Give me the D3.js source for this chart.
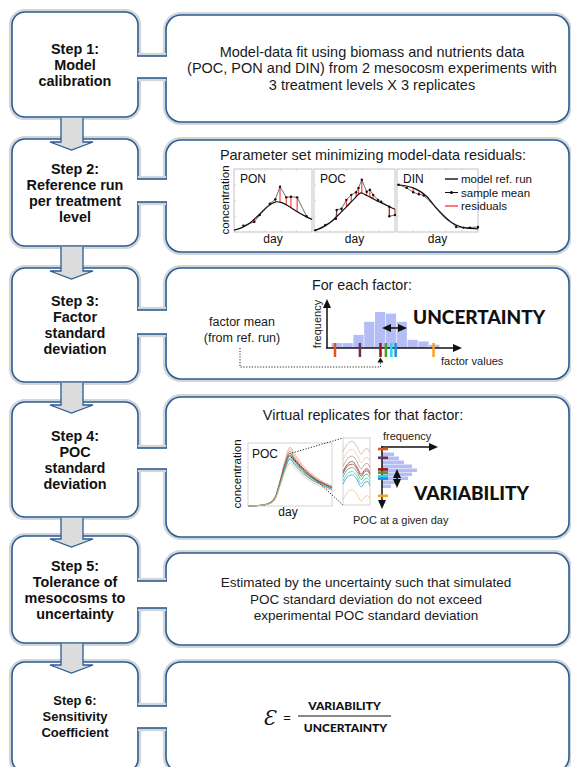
<!DOCTYPE html>
<html><head><meta charset="utf-8">
<script src="https://cdn.jsdelivr.net/npm/d3@7"></script>
<style>body{margin:0;background:#fff}</style>
</head><body>
<script type="text/javascript">
var w = 571, h = 767;
var blue = "#2c5b94", halo = "#d3d6d9";
var sans = "'Liberation Sans', Arial, sans-serif";
var lato = "Lato, 'Open Sans', sans-serif";

// ---- DATA ----
var stepTitles = [
  ["Step 1:", "Model", "calibration"],
  ["Step 2:", "Reference run", "per treatment", "level"],
  ["Step 3:", "Factor", "standard", "deviation"],
  ["Step 4:", "POC", "standard", "deviation"],
  ["Step 5:", "Tolerance of", "mesocosms to", "uncertainty"],
  ["Step 6:", "Sensitivity", "Coefficient"]
];
var step1Text = ["Model-data fit using biomass and nutrients data",
  "(POC, PON and DIN) from 2 mesocosm experiments with",
  "3 treatment levels X 3 replicates"];
var step5Text = ["Estimated by the uncertainty such that simulated",
  "POC standard deviation do not exceed",
  "experimental POC standard deviation"];

// step 2 panels (x: day fraction, y: concentration fraction)
var ponModelX = [0, 0.1, 0.2, 0.3, 0.4, 0.5, 0.55, 0.6, 0.7, 0.8, 0.9, 1];
var ponModelY = [0.03, 0.07, 0.14, 0.25, 0.37, 0.46, 0.48, 0.47, 0.41, 0.33, 0.26, 0.2];
var ponSampleX = [0.12, 0.26, 0.33, 0.46, 0.53, 0.59, 0.67, 0.73, 0.81, 0.93];
var ponSampleY = [0.1, 0.16, 0.27, 0.45, 0.52, 0.72, 0.55, 0.56, 0.55, 0.25];
var pocModelX = [0, 0.1, 0.2, 0.3, 0.4, 0.5, 0.58, 0.65, 0.7, 0.8, 0.9, 1];
var pocModelY = [0.02, 0.07, 0.15, 0.27, 0.4, 0.53, 0.62, 0.58, 0.55, 0.48, 0.42, 0.36];
var pocSampleX = [0.02, 0.14, 0.27, 0.28, 0.34, 0.4, 0.46, 0.52, 0.55, 0.59, 0.65, 0.69, 0.73, 0.79, 0.83, 0.93, 0.93, 1];
var pocSampleY = [0.03, 0.11, 0.21, 0.35, 0.37, 0.51, 0.59, 0.63, 0.7, 0.83, 0.64, 0.67, 0.59, 0.51, 0.48, 0.4, 0.25, 0.27];
var dinModelX = [0, 0.2, 0.37, 0.49, 0.61, 0.73, 0.86, 1];
var dinModelY = [0.75, 0.7, 0.56, 0.37, 0.21, 0.11, 0.06, 0.05];
var dinSampleX = [0.02, 0.12, 0.2, 0.27, 0.33, 0.73, 0.82, 0.9, 1];
var dinSampleY = [0.75, 0.7, 0.63, 0.6, 0.58, 0.08, 0.07, 0.07, 0.08];
var legendLabels = ["model ref. run", "sample mean", "residuals"];

// step 3 histogram of factor values
var factorBins = [0, 1, 2, 3, 4, 5, 6, 7, 8, 9];
var factorFreq = [3, 3, 8, 16, 22, 21, 16, 5, 4, 2];
var factorMarks = [0.3, 2.6, 4.5, 5.0, 5.5, 5.9, 9.4];
var markColors = ["#e2561c", "#6a2f5c", "#a31515", "#4f9a24", "#2ad4f2", "#1f8fd6", "#ffa01f"];
var factorMean = 4.5;

// step 4 virtual replicate curves
var repX = [0, 0.15, 0.25, 0.32, 0.38, 0.44, 0.5, 0.55, 0.65, 0.75, 0.85, 1];
var repY = [
  [0, 0.01, 0.05, 0.14, 0.40, 0.72, 0.93, 0.84, 0.65, 0.52, 0.42, 0.32],
  [0, 0.01, 0.05, 0.13, 0.39, 0.70, 0.90, 0.81, 0.63, 0.50, 0.41, 0.31],
  [0, 0.01, 0.04, 0.13, 0.38, 0.68, 0.87, 0.78, 0.61, 0.49, 0.40, 0.30],
  [0, 0.01, 0.04, 0.12, 0.37, 0.66, 0.84, 0.75, 0.59, 0.47, 0.39, 0.29],
  [0, 0.01, 0.04, 0.12, 0.36, 0.64, 0.81, 0.73, 0.57, 0.46, 0.38, 0.29],
  [0, 0.01, 0.04, 0.12, 0.35, 0.62, 0.79, 0.71, 0.56, 0.45, 0.37, 0.28],
  [0, 0.01, 0.04, 0.11, 0.34, 0.60, 0.76, 0.68, 0.54, 0.43, 0.36, 0.27],
  [0, 0.01, 0.04, 0.11, 0.33, 0.58, 0.74, 0.66, 0.52, 0.42, 0.35, 0.26],
  [0, 0.01, 0.03, 0.10, 0.31, 0.54, 0.68, 0.61, 0.48, 0.39, 0.32, 0.25]
];
var repColors = ["#eaa48e", "#f2c0ae", "#c98878", "#7b3b6b", "#a52a2a", "#5aa83a", "#38c6ea", "#3a96d4", "#f5c46a"];
var insetX = [0, 0.19, 0.35, 0.5, 0.68, 0.81, 0.9, 1];
var insetY = [
  [0.80, 0.92, 0.95, 0.88, 0.76, 0.83, 0.84, 0.78],
  [0.68, 0.80, 0.83, 0.76, 0.63, 0.70, 0.71, 0.65],
  [0.58, 0.70, 0.73, 0.66, 0.54, 0.61, 0.62, 0.56],
  [0.50, 0.62, 0.65, 0.58, 0.46, 0.53, 0.54, 0.48],
  [0.47, 0.59, 0.61, 0.55, 0.43, 0.50, 0.51, 0.45],
  [0.42, 0.54, 0.56, 0.50, 0.38, 0.45, 0.46, 0.40],
  [0.36, 0.48, 0.50, 0.44, 0.32, 0.39, 0.40, 0.34],
  [0.31, 0.43, 0.45, 0.39, 0.27, 0.34, 0.35, 0.29],
  [0.08, 0.20, 0.23, 0.17, 0.06, 0.12, 0.14, 0.09]
];
// POC at a given day histogram (bins top -> bottom)
var pocBins = [0, 1, 2, 3, 4, 5, 6, 7, 8];
var pocFreq = [12, 17, 22, 30, 35, 30, 26, 17, 9];
var pocMarks = [-0.9, 1.3, 4.2, 5.0, 5.9, 6.5, 10.8];

// ---- LAYOUT ----
var leftBoxes = [[12, 117], [139, 246], [268, 382], [402, 517], [536, 643], [662, 772]];
var rightBoxes = [[15, 122], [140, 252], [268, 379], [397, 537], [553, 645], [662, 772]];
var connectors = [[56, 78], [179, 202], [310, 334], [448, 469], [581, 608], [706, 728]];

const svg = d3.select("body").append("svg").attr("width", w).attr("height", h);

function box(x, y, bw, bh, r) {
  svg.append("rect").attr("x", x - 1.6).attr("y", y - 1.6).attr("width", bw + 3.2).attr("height", bh + 3.2)
    .attr("rx", r + 1.6).attr("fill", "none").attr("stroke", halo).attr("stroke-width", 3);
  svg.append("rect").attr("x", x).attr("y", y).attr("width", bw).attr("height", bh)
    .attr("rx", r).attr("fill", "#fff").attr("stroke", blue).attr("stroke-width", 1.6);
}

leftBoxes.forEach(function (b) { box(12, b[0], 126, b[1] - b[0], 13); });
rightBoxes.forEach(function (b) { box(166, b[0], 403, b[1] - b[0], 15); });

// connectors
connectors.forEach(function (c) {
  svg.append("rect").attr("x", 136).attr("y", c[0]).attr("width", 32).attr("height", c[1] - c[0]).attr("fill", "#fff");
  svg.append("line").attr("x1", 138).attr("x2", 166).attr("y1", c[0] - 1.6).attr("y2", c[0] - 1.6).attr("stroke", halo).attr("stroke-width", 3);
  svg.append("line").attr("x1", 138).attr("x2", 166).attr("y1", c[1] + 1.6).attr("y2", c[1] + 1.6).attr("stroke", halo).attr("stroke-width", 3);
  svg.append("line").attr("x1", 137).attr("x2", 167).attr("y1", c[0]).attr("y2", c[0]).attr("stroke", blue).attr("stroke-width", 1.6);
  svg.append("line").attr("x1", 137).attr("x2", 167).attr("y1", c[1]).attr("y2", c[1]).attr("stroke", blue).attr("stroke-width", 1.6);
});

// arrows between step boxes
for (var i = 0; i < leftBoxes.length - 1; i++) {
  var y0 = leftBoxes[i][1] + 0.8, yb = leftBoxes[i + 1][0] + 3, tip = leftBoxes[i + 1][0] + 11;
  var pts = [[61, y0], [61, yb], [50, yb], [71.5, tip], [93, yb], [83, yb], [83, y0]];
  svg.append("path").attr("d", d3.line()(pts) + "Z").attr("fill", "#dcdcdc");
  svg.append("path").attr("d", d3.line()(pts)).attr("fill", "none").attr("stroke", blue).attr("stroke-width", 1.3);
}

// step titles
stepTitles.forEach(function (lines, k) {
  var cy = (leftBoxes[k][0] + leftBoxes[k][1]) / 2;
  if (k == 5) cy = 716;
  var t = svg.append("text").attr("font-family", sans).attr("font-weight", "bold").attr("font-size", k == 5 ? 13 : 14.4)
    .attr("text-anchor", "middle").attr("fill", "#111");
  lines.forEach(function (s, j) {
    t.append("tspan").attr("x", 75).attr("y", cy + 5 + (j - (lines.length - 1) / 2) * 16).text(s);
  });
});

function centerText(lines, cx, y0, dy, size) {
  var t = svg.append("text").attr("font-family", sans).attr("font-size", size).attr("text-anchor", "middle").attr("fill", "#1a1a1a");
  lines.forEach(function (s, j) { t.append("tspan").attr("x", cx).attr("y", y0 + j * dy).text(s); });
}
centerText(step1Text, 372, 56.5, 16.5, 14.5);
centerText(step5Text, 366, 587, 16.5, 13.5);

// ---- STEP 2 ----
centerText(["Parameter set minimizing model-data residuals:"], 373, 160, 0, 14.5);
function interp(xs, ys, x) {
  for (var k = 1; k < xs.length; k++) {
    if (x <= xs[k]) { var f = (x - xs[k - 1]) / (xs[k] - xs[k - 1]); return ys[k - 1] + f * (ys[k] - ys[k - 1]); }
  }
  return ys[ys.length - 1];
}
function panel(x0, x1, label, mx, my, sx, sy) {
  var X = d3.scaleLinear().domain([0, 1]).range([x0, x1]);
  var Y = d3.scaleLinear().domain([0, 1]).range([232, 169]);
  svg.append("rect").attr("x", x0).attr("y", 169).attr("width", x1 - x0).attr("height", 63).attr("fill", "#fff").attr("stroke", "#b5b5b5").attr("stroke-width", 0.8);
  [0.2, 0.4, 0.6, 0.8].forEach(function (t) {
    svg.append("line").attr("x1", X(t)).attr("x2", X(t)).attr("y1", 169).attr("y2", 171).attr("stroke", "#c8c8c8").attr("stroke-width", 0.6);
    svg.append("line").attr("x1", X(t)).attr("x2", X(t)).attr("y1", 230).attr("y2", 232).attr("stroke", "#c8c8c8").attr("stroke-width", 0.6);
  });
  [0.25, 0.5, 0.75].forEach(function (t) {
    svg.append("line").attr("x1", x0).attr("x2", x0 + 2).attr("y1", Y(t)).attr("y2", Y(t)).attr("stroke", "#c8c8c8").attr("stroke-width", 0.6);
  });
  sx.forEach(function (x, k) {
    svg.append("line").attr("x1", X(x)).attr("x2", X(x)).attr("y1", Y(sy[k])).attr("y2", Y(interp(mx, my, x)))
      .attr("stroke", "#ff4040").attr("stroke-width", 1.2);
  });
  var line = d3.line().x(function (d) { return X(d[0]); }).y(function (d) { return Y(d[1]); });
  svg.append("path").attr("d", line(d3.zip(sx, sy))).attr("fill", "none").attr("stroke", "#333").attr("stroke-width", 0.7);
  sx.forEach(function (x, k) { svg.append("circle").attr("cx", X(x)).attr("cy", Y(sy[k])).attr("r", 1.2).attr("fill", "#111"); });
  svg.append("path").attr("d", line.curve(d3.curveMonotoneX)(d3.zip(mx, my))).attr("fill", "none").attr("stroke", "#111").attr("stroke-width", 1.2);
  svg.append("text").attr("x", x0 + 6).attr("y", 183).attr("font-family", sans).attr("font-size", 12).attr("fill", "#111").text(label);
  svg.append("text").attr("x", (x0 + x1) / 2).attr("y", 243).attr("text-anchor", "middle").attr("font-family", sans).attr("font-size", 12).attr("fill", "#111").text("day");
}
panel(234, 312, "PON", ponModelX, ponModelY, ponSampleX, ponSampleY);
panel(314, 395, "POC", pocModelX, pocModelY, pocSampleX, pocSampleY);
panel(397, 478, "DIN", dinModelX, dinModelY, dinSampleX, dinSampleY);
svg.append("text").attr("transform", "translate(229,200) rotate(-90)").attr("text-anchor", "middle")
  .attr("font-family", sans).attr("font-size", 11.5).attr("fill", "#111").text("concentration");
legendLabels.forEach(function (s, k) {
  var ly = 179 + k * 13.5;
  svg.append("line").attr("x1", 445).attr("x2", 458).attr("y1", ly).attr("y2", ly)
    .attr("stroke", k == 2 ? "#ff4040" : "#111").attr("stroke-width", k == 1 ? 1 : 1.4);
  if (k == 1) svg.append("circle").attr("cx", 451.5).attr("cy", ly).attr("r", 1.6).attr("fill", "#111");
  svg.append("text").attr("x", 461).attr("y", ly + 4).attr("font-family", sans).attr("font-size", 11.5).attr("fill", "#111").text(s);
});

// ---- STEP 3 ----
centerText(["For each factor:"], 362, 290, 0, 14.3);
var fx = d3.scaleLinear().domain([0, 10]).range([331.7, 440]);
var fy = d3.scaleLinear().domain([0, 22]).range([348, 312]);
factorBins.forEach(function (b, k) {
  svg.append("rect").attr("x", fx(b)).attr("y", fy(factorFreq[k])).attr("width", fx(b + 1) - fx(b) - 0.6)
    .attr("height", 348 - fy(factorFreq[k])).attr("fill", "#b4bdf6");
});
function arrowHead(x, y, dir) {
  var p = dir == "up" ? [[x - 4, y + 9], [x + 4, y + 9], [x, y]] :
    dir == "down" ? [[x - 4, y - 9], [x + 4, y - 9], [x, y]] :
    dir == "right" ? [[x - 9, y - 4], [x - 9, y + 4], [x, y]] : [[x + 9, y - 4], [x + 9, y + 4], [x, y]];
  svg.append("path").attr("d", d3.line()(p) + "Z").attr("fill", "#111");
}
svg.append("line").attr("x1", 327).attr("x2", 327).attr("y1", 348).attr("y2", 305).attr("stroke", "#111").attr("stroke-width", 1.5);
arrowHead(327, 299, "up");
svg.append("line").attr("x1", 326).attr("x2", 455).attr("y1", 348).attr("y2", 348).attr("stroke", "#111").attr("stroke-width", 1.5);
arrowHead(462, 348, "right");
factorMarks.forEach(function (m, k) {
  svg.append("rect").attr("x", fx(m) - 1.2).attr("y", 343).attr("width", 2.5).attr("height", 14).attr("fill", markColors[k]);
});
svg.append("line").attr("x1", 388).attr("x2", 401).attr("y1", 328).attr("y2", 328).attr("stroke", "#111").attr("stroke-width", 1.5);
arrowHead(382, 328, "left");
arrowHead(407, 328, "right");
svg.append("text").attr("x", 413).attr("y", 324).attr("font-family", lato).attr("font-weight", 900).attr("font-size", 19).attr("fill", "#111").text("UNCERTAINTY");
svg.append("text").attr("transform", "translate(320.5,324) rotate(-90)").attr("text-anchor", "middle")
  .attr("font-family", sans).attr("font-size", 11).attr("fill", "#222").text("frequency");
svg.append("text").attr("x", 441).attr("y", 365).attr("font-family", sans).attr("font-size", 11).attr("fill", "#222").text("factor values");
centerText(["factor mean", "(from ref. run)"], 242, 326, 15.5, 12.5);
svg.append("path").attr("d", d3.line()([[240, 348], [240, 367], [fx(factorMean), 367], [fx(factorMean), 362]]))
  .attr("fill", "none").attr("stroke", "#111").attr("stroke-width", 0.9).attr("stroke-dasharray", "1.2,1.6");
svg.append("path").attr("d", d3.line()([[fx(factorMean) - 3, 362.5], [fx(factorMean) + 3, 362.5], [fx(factorMean), 357.5]]) + "Z").attr("fill", "#111");

// ---- STEP 4 ----
centerText(["Virtual replicates for that factor:"], 363, 420, 0, 14.5);
var rx = d3.scaleLinear().domain([0, 1]).range([248, 332]);
var ry = d3.scaleLinear().domain([0, 1]).range([506, 443]);
svg.append("rect").attr("x", 248).attr("y", 443).attr("width", 84).attr("height", 63).attr("fill", "#fff").attr("stroke", "#c8c8c8").attr("stroke-width", 0.8);
var rline = d3.line().curve(d3.curveMonotoneX).x(function (d) { return rx(d[0]); }).y(function (d) { return ry(d[1]); });
repY.forEach(function (ys, k) {
  svg.append("path").attr("d", rline(d3.zip(repX, ys))).attr("fill", "none").attr("stroke", repColors[k]).attr("stroke-width", 0.8);
});
svg.append("text").attr("x", 252).attr("y", 458).attr("font-family", sans).attr("font-size", 12).attr("fill", "#111").text("POC");
svg.append("text").attr("x", 288).attr("y", 516).attr("text-anchor", "middle").attr("font-family", sans).attr("font-size", 12).attr("fill", "#111").text("day");
svg.append("text").attr("transform", "translate(241,474) rotate(-90)").attr("text-anchor", "middle")
  .attr("font-family", sans).attr("font-size", 11.5).attr("fill", "#111").text("concentration");
// inset
var ix = d3.scaleLinear().domain([0, 1]).range([343, 370]);
var iy = d3.scaleLinear().domain([0, 1]).range([505, 438]);
svg.append("rect").attr("x", 343).attr("y", 438).attr("width", 27).attr("height", 67).attr("fill", "#fff").attr("stroke", "#c8c8c8").attr("stroke-width", 0.8);
var iline = d3.line().curve(d3.curveMonotoneX).x(function (d) { return ix(d[0]); }).y(function (d) { return iy(d[1]); });
insetY.forEach(function (ys, k) {
  svg.append("path").attr("d", iline(d3.zip(insetX, ys))).attr("fill", "none").attr("stroke", repColors[k]).attr("stroke-width", 0.8);
});
svg.append("line").attr("x1", 292).attr("y1", 453).attr("x2", 343).attr("y2", 438).attr("stroke", "#111").attr("stroke-width", 0.9).attr("stroke-dasharray", "1.2,1.6");
svg.append("line").attr("x1", 291).attr("y1", 457).attr("x2", 343).attr("y2", 505).attr("stroke", "#111").attr("stroke-width", 0.9).attr("stroke-dasharray", "1.2,1.6");
// POC histogram
var py = d3.scaleLinear().domain([0, 9]).range([452.5, 488.5]);
var px = d3.scaleLinear().domain([0, 35]).range([382, 417]);
pocBins.forEach(function (b, k) {
  svg.append("rect").attr("x", 382).attr("y", py(b)).attr("width", px(pocFreq[k]) - 382).attr("height", py(b + 1) - py(b) - 0.5).attr("fill", "#b4bdf6");
});
svg.append("line").attr("x1", 382).attr("x2", 382).attr("y1", 446).attr("y2", 502).attr("stroke", "#111").attr("stroke-width", 1.5);
arrowHead(382, 509, "down");
svg.append("line").attr("x1", 381).attr("x2", 431).attr("y1", 447).attr("y2", 447).attr("stroke", "#111").attr("stroke-width", 1.5);
arrowHead(438, 447, "right");
pocMarks.forEach(function (m, k) {
  svg.append("rect").attr("x", 378).attr("y", py(m) - 1.2).attr("width", 10).attr("height", 2.6).attr("fill", markColors[k]);
});
svg.append("line").attr("x1", 397).attr("x2", 397).attr("y1", 475).attr("y2", 482).attr("stroke", "#111").attr("stroke-width", 1.5);
arrowHead(397, 469, "up");
arrowHead(397, 488, "down");
svg.append("text").attr("x", 383).attr("y", 440).attr("font-family", sans).attr("font-size", 11).attr("fill", "#222").text("frequency");
svg.append("text").attr("x", 353).attr("y", 524).attr("font-family", sans).attr("font-size", 11).attr("fill", "#222").text("POC at a given day");
svg.append("text").attr("x", 414).attr("y", 499.5).attr("font-family", lato).attr("font-weight", 900).attr("font-size", 19).attr("fill", "#111").text("VARIABILITY");

// ---- STEP 6 ----
svg.append("text").attr("x", 269).attr("y", 725).attr("text-anchor", "middle").attr("font-family", "'DejaVu Serif', serif").attr("font-style", "italic").attr("font-size", 20).attr("fill", "#111").text("\u0190");
svg.append("text").attr("x", 287).attr("y", 722).attr("text-anchor", "middle").attr("font-family", sans).attr("font-size", 13).attr("fill", "#111").text("=");
svg.append("text").attr("x", 344.5).attr("y", 710).attr("text-anchor", "middle").attr("font-family", lato).attr("font-weight", 900).attr("font-size", 12).attr("fill", "#111").text("VARIABILITY");
svg.append("line").attr("x1", 298).attr("x2", 391).attr("y1", 716).attr("y2", 716).attr("stroke", "#111").attr("stroke-width", 1);
svg.append("text").attr("x", 345.5).attr("y", 732).attr("text-anchor", "middle").attr("font-family", lato).attr("font-weight", 900).attr("font-size", 12).attr("fill", "#111").text("UNCERTAINTY");
</script>
</body></html>
